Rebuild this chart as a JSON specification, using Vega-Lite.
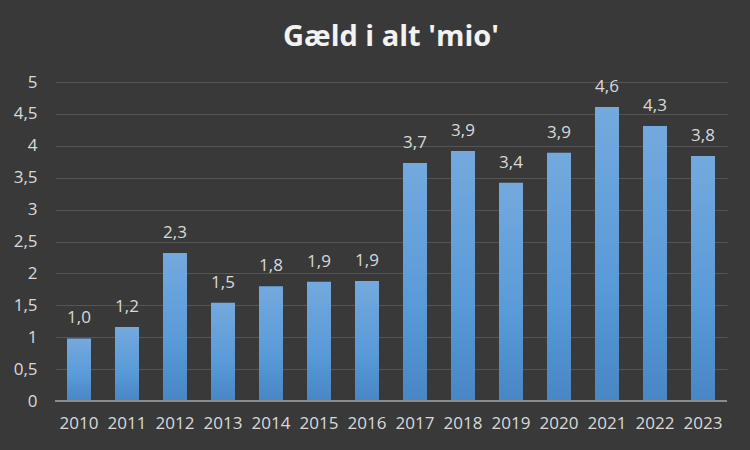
{
  "$schema": "https://vega.github.io/schema/vega-lite/v6.json",
  "width": 672,
  "height": 319,
  "autosize": {"type": "none"},
  "padding": {"left": 55, "top": 82, "right": 23, "bottom": 49},
  "background": "#393939",
  "title": {
    "text": "Gæld i alt 'mio'",
    "font": "Open Sans",
    "fontSize": 29,
    "fontWeight": "bold",
    "color": "#f2f2f2",
    "anchor": "middle",
    "offset": 21
  },
  "config": {
    "locale": {"number": {"decimal": ",", "thousands": ".", "grouping": [3], "currency": ["", " kr"]}},
    "view": {"stroke": null},
    "axis": {"labelFont": "Open Sans", "labelFontSize": 17, "labelColor": "#d9d9d9", "ticks": false, "title": null}
  },
  "data": {
    "values": [
      {"year": "2010", "value": 0.98},
      {"year": "2011", "value": 1.16},
      {"year": "2012", "value": 2.32},
      {"year": "2013", "value": 1.54},
      {"year": "2014", "value": 1.80},
      {"year": "2015", "value": 1.87},
      {"year": "2016", "value": 1.88},
      {"year": "2017", "value": 3.73},
      {"year": "2018", "value": 3.92},
      {"year": "2019", "value": 3.42},
      {"year": "2020", "value": 3.89},
      {"year": "2021", "value": 4.61},
      {"year": "2022", "value": 4.31},
      {"year": "2023", "value": 3.84}
    ]
  },
  "encoding": {
    "x": {
      "field": "year", "type": "ordinal",
      "scale": {"paddingInner": 0.5, "paddingOuter": 0.25},
      "axis": {"labelAngle": 0, "domain": false, "labelPadding": 14}
    },
    "y": {
      "field": "value", "type": "quantitative",
      "scale": {"domain": [0, 5]},
      "axis": {"values": [0, 0.5, 1, 1.5, 2, 2.5, 3, 3.5, 4, 4.5, 5], "format": ",.1~f", "domain": false, "gridColor": "#555555", "gridWidth": 1.2, "labelPadding": 18}
    }
  },
  "layer": [
    {
      "mark": {
        "type": "bar",
        "color": {
          "gradient": "linear", "x1": 0, "y1": 0, "x2": 0, "y2": 1,
          "stops": [{"offset": 0, "color": "#74a9dd"}, {"offset": 0.6, "color": "#5a9ad9"}, {"offset": 1, "color": "#4886c4"}]
        }
      }
    },
    {
      "mark": {"type": "rule", "color": "#8c8c8c", "strokeWidth": 2},
      "encoding": {"x": null, "y": {"datum": 0, "type": "quantitative"}}
    },
    {
      "mark": {"type": "text", "dy": -20, "font": "Open Sans", "fontSize": 17, "color": "#d9d9d9"},
      "encoding": {"text": {"field": "value", "type": "quantitative", "format": ".1f"}}
    }
  ]
}
